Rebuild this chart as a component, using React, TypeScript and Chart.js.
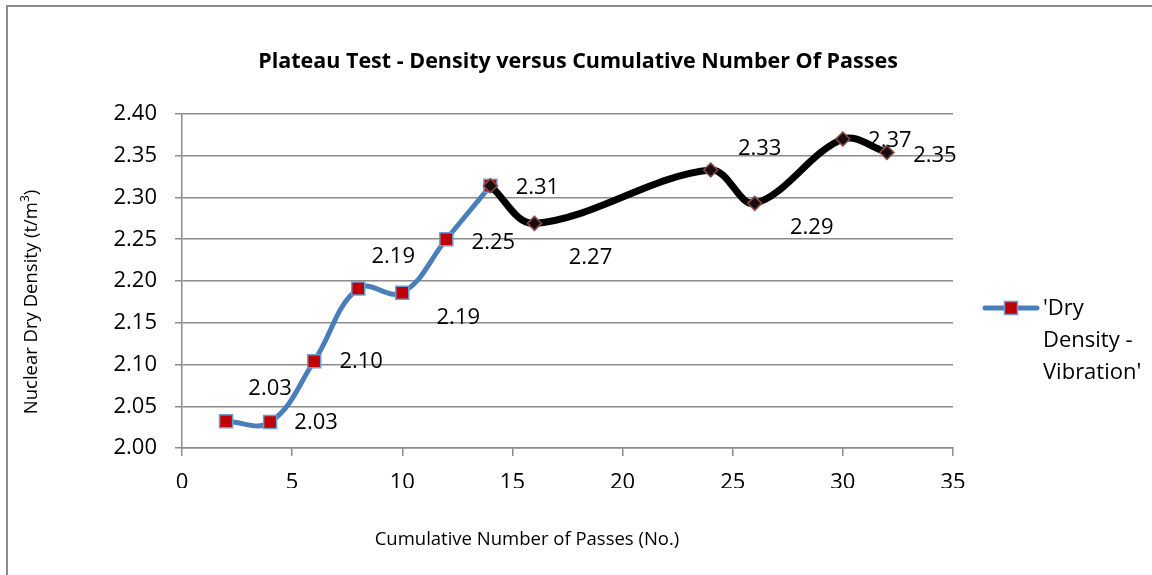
import { useEffect, useRef } from 'react';
import { Chart, registerables } from 'chart.js';

Chart.register(...registerables);

// ---- data ----
const passesVibrationA = [2, 4, 6, 8, 10, 12, 14];
const densityVibrationA = [2.032, 2.031, 2.104, 2.191, 2.186, 2.25, 2.314];
const passesVibrationB = [14, 16, 24, 26, 30, 32];
const densityVibrationB = [2.314, 2.269, 2.333, 2.293, 2.37, 2.354];
const xTickValues = [0, 5, 10, 15, 20, 25, 30, 35];
const yTickValues = [2.0, 2.05, 2.1, 2.15, 2.2, 2.25, 2.3, 2.35, 2.4];

const TITLE = 'Plateau Test - Density versus Cumulative Number Of Passes';
const X_TITLE = 'Cumulative Number of Passes (No.)';
const Y_TITLE = 'Nuclear Dry Density (t/m';
const Y_TITLE_SUP = '3';
const LEGEND_LINES = ["'Dry", 'Density -', "Vibration'"];

// ---- style ----
const FONT = "'Open Sans', 'DejaVu Sans', sans-serif";
const BLUE = '#4a7ebb';
const RED = '#c00000';
const GRID = '#8c8c8c';
// data label offsets (px) relative to each marker
const labelOffsetsA: number[][] = [[44, -33], [46, 1], [47, 1], [35, -32], [56, 25], [47, 3], [47, 2]];
const labelOffsetsB: (number[] | null)[] = [null, [56, 34], [49, -21], [57, 24], [47, 2], [48, 3]];

const decorPlugin = {
  id: 'decor',
  beforeDraw(chart: any) {
    const ctx = chart.ctx;
    ctx.save();
    ctx.fillStyle = '#fff';
    ctx.fillRect(0, 0, chart.width, chart.height);
    ctx.fillStyle = GRID;
    ctx.fillRect(6, 5, 2, chart.height - 5);
    ctx.fillRect(6, 5, chart.width - 6, 2);
    ctx.restore();
  },
  afterDatasetsDraw(chart: any) {
    const ctx = chart.ctx;
    ctx.save();
    ctx.fillStyle = '#000';
    ctx.font = `22px ${FONT}`;
    ctx.textAlign = 'center';
    ctx.textBaseline = 'middle';
    const draw = (dsIndex: number, values: number[], offs: (number[] | null)[]) => {
      const meta = chart.getDatasetMeta(dsIndex);
      meta.data.forEach((pt: any, i: number) => {
        const o = offs[i];
        if (!o) return;
        ctx.fillText(values[i].toFixed(2), pt.x + o[0], pt.y + o[1]);
      });
    };
    draw(1, densityVibrationA, labelOffsetsA);
    draw(0, densityVibrationB, labelOffsetsB);
    ctx.restore();
  },
  afterDraw(chart: any) {
    const ctx = chart.ctx;
    ctx.save();
    ctx.fillStyle = '#000';
    // title
    ctx.font = `bold 21.5px ${FONT}`;
    ctx.textAlign = 'center';
    ctx.textBaseline = 'middle';
    ctx.fillText(TITLE, 578, 62);
    // x title
    ctx.font = `18.5px ${FONT}`;
    ctx.fillText(X_TITLE, 527, 540);
    // y title (rotated) with superscript
    ctx.save();
    ctx.translate(32, 302);
    ctx.rotate(-Math.PI / 2);
    ctx.font = `18.5px ${FONT}`;
    const mainW = ctx.measureText(Y_TITLE).width;
    ctx.font = `12px ${FONT}`;
    const supW = ctx.measureText(Y_TITLE_SUP).width;
    ctx.font = `18.5px ${FONT}`;
    const closeW = ctx.measureText(')').width;
    const total = mainW + supW + closeW;
    let x = -total / 2;
    ctx.textAlign = 'left';
    ctx.fillText(Y_TITLE, x, 0);
    x += mainW;
    ctx.font = `12px ${FONT}`;
    ctx.fillText(Y_TITLE_SUP, x, -6);
    x += supW;
    ctx.font = `18.5px ${FONT}`;
    ctx.fillText(')', x, 0);
    ctx.restore();
    // legend
    const ly = 308;
    ctx.strokeStyle = BLUE;
    ctx.lineWidth = 5;
    ctx.lineCap = 'round';
    ctx.beginPath();
    ctx.moveTo(985, ly);
    ctx.lineTo(1037, ly);
    ctx.stroke();
    ctx.fillStyle = RED;
    ctx.fillRect(1004.5, ly - 6.5, 13, 13);
    ctx.strokeStyle = '#6f9bd3';
    ctx.lineWidth = 1.5;
    ctx.strokeRect(1004.5, ly - 6.5, 13, 13);
    ctx.fillStyle = '#000';
    ctx.font = `22px ${FONT}`;
    ctx.textAlign = 'left';
    ctx.textBaseline = 'middle';
    LEGEND_LINES.forEach((t, i) => ctx.fillText(t, 1043, 309 + i * 32));
    ctx.restore();
  },
};

export default function App() {
  const ref = useRef<HTMLCanvasElement | null>(null);
  useEffect(() => {
    if (!ref.current) return;
    const chart = new Chart(ref.current, {
      type: 'line',
      data: {
        datasets: [
          {
            label: 'Dry Density - Vibration (cont.)',
            data: passesVibrationB.map((x, i) => ({ x, y: densityVibrationB[i] })),
            borderColor: '#000',
            borderWidth: 7,
            tension: 0.35,
            pointStyle: 'rectRot',
            pointRadius: 7,
            pointBackgroundColor: '#1a0d0d',
            pointBorderColor: '#8b4a4a',
            pointBorderWidth: 1.5,
            order: 0,
          },
          {
            label: "'Dry Density - Vibration'",
            data: passesVibrationA.map((x, i) => ({ x, y: densityVibrationA[i] })),
            borderColor: BLUE,
            borderWidth: 5,
            tension: 0.4,
            pointStyle: 'rect',
            pointRadius: 9.2,
            pointBackgroundColor: RED,
            pointBorderColor: '#6f9bd3',
            pointBorderWidth: 1.5,
            order: 1,
          },
        ],
      },
      options: {
        responsive: false,
        animation: false,
        events: [],
        layout: { padding: { left: 72, top: 114, right: 199, bottom: 87 } },
        plugins: {
          legend: { display: false },
          title: { display: false },
          tooltip: { enabled: false },
        },
        scales: {
          x: {
            type: 'linear',
            min: 0,
            max: 35,
            afterBuildTicks: (s: any) => {
              s.ticks = xTickValues.map((v) => ({ value: v }));
            },
            afterFit: (s: any) => {
              s.height = 40;
            },
            grid: { drawOnChartArea: false, drawTicks: true, tickLength: 8, color: GRID, lineWidth: 1.5 },
            border: { display: true, color: GRID, width: 1.5 },
            ticks: { color: '#000', font: { family: FONT, size: 22 }, padding: 14, maxRotation: 0 },
          },
          y: {
            type: 'linear',
            min: 2.0,
            max: 2.4,
            afterBuildTicks: (s: any) => {
              s.ticks = yTickValues.map((v) => ({ value: v }));
            },
            afterFit: (s: any) => {
              s.width = 110;
            },
            grid: { drawTicks: true, tickLength: 7, color: GRID, lineWidth: 1.5 },
            border: { display: true, color: GRID, width: 1.5 },
            ticks: {
              color: '#000',
              font: { family: FONT, size: 22 },
              padding: 18,
              callback: (v: any) => Number(v).toFixed(2),
            },
          },
        },
      } as any,
      plugins: [decorPlugin],
    });
    return () => chart.destroy();
  }, []);
  return (
    <div style={{ position: 'absolute', left: 0, top: 0, width: 1152, height: 575 }}>
      <canvas ref={ref} width={1152} height={575} style={{ display: 'block' }} />
    </div>
  );
}
